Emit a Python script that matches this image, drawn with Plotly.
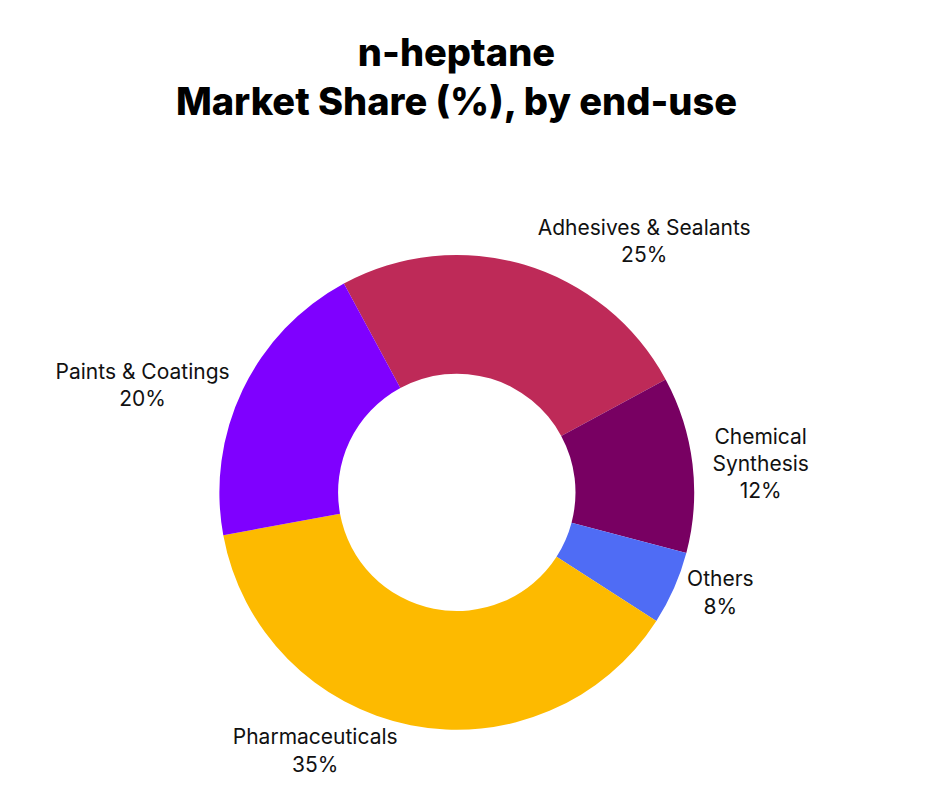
import plotly.graph_objects as go

# categorias y valores
segmentos = ["Adhesives & Sealants", "Chemical Synthesis", "Others", "Pharmaceuticals", "Paints & Coatings"]
etiquetas = ["Adhesives & Sealants", "Chemical<br>Synthesis", "Others", "Pharmaceuticals", "Paints & Coatings"]
cuota_texto = [25, 12, 8, 35, 20]        # % mostrado en la etiqueta
cuota_sector = [25, 12, 5, 38, 20]       # tamaño del sector
colores = ["#BE2A58", "#780062", "#4F6CF5", "#FDBA00", "#7F00FF"]

textos = [f"{e}<br>{v}%" for e, v in zip(etiquetas, cuota_texto)]

fig = go.Figure(go.Pie(
    labels=segmentos,
    values=cuota_sector,
    text=textos,
    textinfo="text",
    textposition="outside",
    hole=0.5,
    sort=False,
    direction="clockwise",
    rotation=-28.4,
    marker=dict(colors=colores, line=dict(width=0)),
    outsidetextfont=dict(family="Inter", size=21, color="#111111"),
    showlegend=False,
    domain=dict(x=[0.128, 0.728], y=[0.091, 0.689]),
))

fig.update_layout(
    width=943,
    height=794,
    margin=dict(l=0, r=0, t=0, b=0),
    paper_bgcolor="white",
    title=dict(
        text="n-heptane<br>Market Share (%), by end-use",
        x=0.4756, xanchor="center",
        y=0.927, yanchor="top",
        font=dict(family="Inter", size=38, weight=800, color="#000000"),
    ),
)

fig.write_html("out.html")
